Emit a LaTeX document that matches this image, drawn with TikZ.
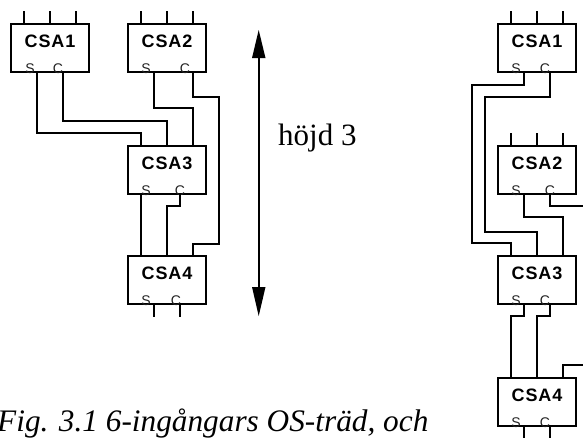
\documentclass[tikz,border=0pt]{standalone}
\usepackage{fontspec}
\setmainfont{Liberation Serif}
\setsansfont{Liberation Sans}
\usepackage{tikz}
\usetikzlibrary{calc}
\definecolor{pin1}{HTML}{222222}
\tikzset{
  csabox/.style={draw, line width=1.7pt, minimum width=78pt, minimum height=48pt, inner sep=0pt},
  csaname/.style={font=\sffamily\bfseries\fontsize{18}{18}\selectfont, inner sep=0pt},
  pinname/.style={font=\sffamily\fontsize{14}{14}\selectfont, text=pin1, inner sep=0pt},
  wire/.style={line width=1.7pt},
  sidetext/.style={inner sep=0pt, anchor=base west}
}
% name, left, top, label, x of S text, x of C text, x of S pin, x of C pin
\newcommand{\csablock}[8]{
  \node[csabox] (#1) at (#2+39,#3+24) {};
  \node[csaname] (#1n) at (#2+39,#3+17) {\addfontfeatures{LetterSpace=5}#4};
  \node[pinname] (#1s) at (#2+#5,#3+44.5) {S};
  \node[pinname] (#1c) at (#2+#6,#3+44.5) {C};
  \coordinate (#1a) at (#2+13,#3);
  \coordinate (#1b) at (#2+39,#3);
  \coordinate (#1d) at (#2+65,#3);
  \coordinate (#1p) at (#2+#7,#3+48);
  \coordinate (#1q) at (#2+#8,#3+48);
}
\begin{document}
\begin{tikzpicture}[x=1pt, y=-1pt]
\useasboundingbox (0,0) rectangle (583,437);
\clip (0,0) rectangle (583,437);
% left tree
\csablock{la}{11}{24}{CSA1}{19}{47}{26}{52}
\csablock{lb}{128}{24}{CSA2}{18}{57}{26}{65}
\csablock{lc}{128}{146}{CSA3}{18}{52}{26}{52}
\csablock{ld}{128}{256}{CSA4}{18}{48}{26}{52}
% right tree
\csablock{ra}{498}{24}{CSA1}{18}{47}{26}{52}
\csablock{rb}{498}{146}{CSA2}{18}{52}{26}{52}
\csablock{rc}{498}{256}{CSA3}{18}{47}{26}{52}
\csablock{rd}{498}{378}{CSA4}{18}{47}{26}{52}
% inputs
\foreach \n in {la,lb,ra,rb}{
  \foreach \m in {a,b,d}{
    \draw[wire] (\n\m) -- ++(0,-13);
  }
}
% left wires
\draw[wire] (lap) |- ($(lca)+(0,-13)$) -- (lca);
\draw[wire] (laq) |- ($(lcb)+(0,-25)$) -- (lcb);
\draw[wire] (lbp) |- ($(lcd)+(0,-38)$) -- (lcd);
\draw[wire] (lbq) -- ++(0,25) -| ++(26,147) -| (ldd);
\draw[wire] (lca) ++(0,48) -- (lda);
\draw[wire] (lcq) -- ++(0,12) -| (ldb);
\draw[wire] (ldp) -- ++(0,13);
\draw[wire] (ldq) -- ++(0,13);
% right wires
\draw[wire] (rap) -- ++(0,13) -| ++(-52,158) -| (rca);
\draw[wire] (raq) -- ++(0,25) -| ++(-65,135) -| (rcb);
\draw[wire] (rbp) -- ++(0,23) -| (rcd);
\coordinate (redge) at (583,206);
\draw[wire] (rbq) |- (redge);
\draw[wire] (rcp) -- ++(0,12) -| (rda);
\draw[wire] (rcq) -- ++(0,12) -| (rdb);
\coordinate (rfree) at (583,365);
\draw[wire] (rdd) |- (rfree);
\draw[wire] (rdp) -- ++(0,13);
\draw[wire] (rdq) -- ++(0,13);
% height arrow
\coordinate (htop) at (258.7,58);
\coordinate (hbot) at (258.7,287);
\draw[wire] (htop) -- (hbot);
\fill (258.7,30) -- (265.5,58) -- (252,58) -- cycle;
\fill (258.7,316) -- (265.5,287) -- (252,287) -- cycle;
% texts
\node[sidetext, font=\fontsize{31}{31}\selectfont] (hojd) at (278,145) {höjd 3};
\node[sidetext, font=\itshape\fontsize{31.3}{31.3}\selectfont] (figcap) at (-3,431.5) {Fig. 3.1 6-ingångars OS-träd, och};
\end{tikzpicture}
\end{document}
